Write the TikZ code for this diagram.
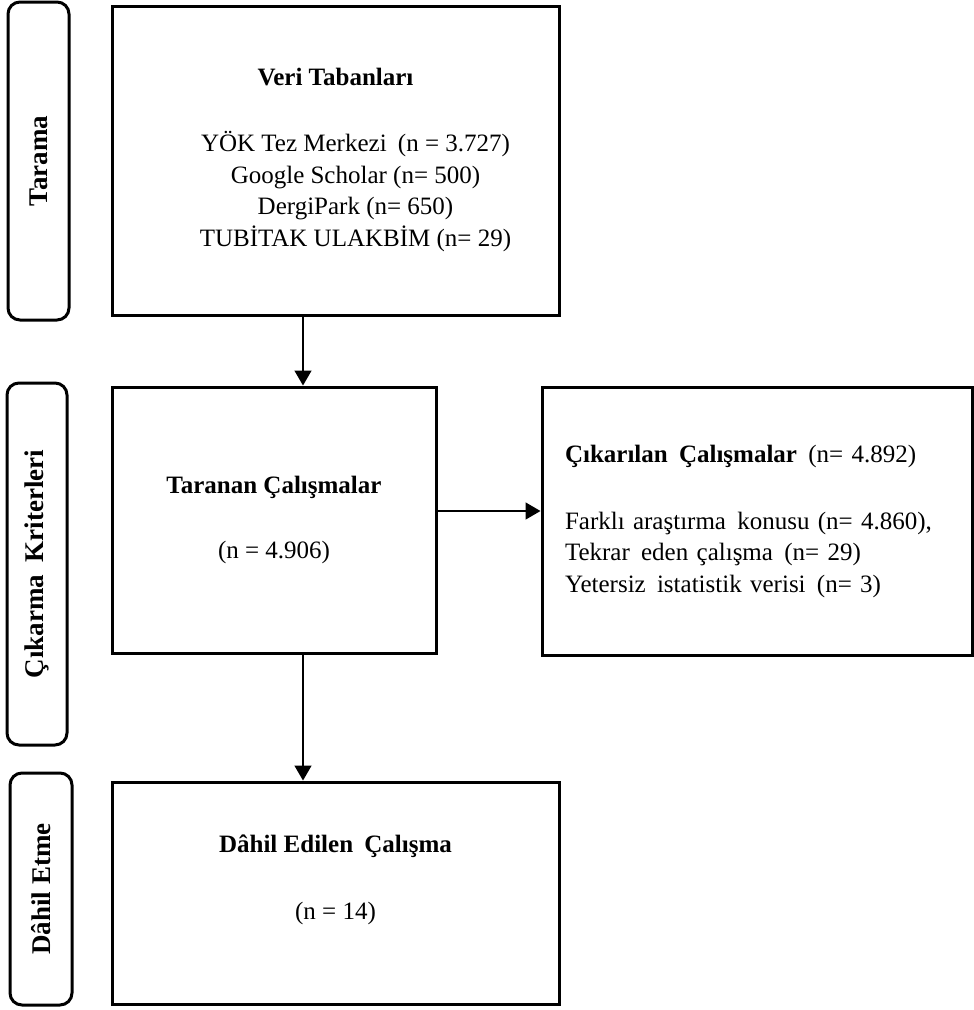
\documentclass[tikz,border=0pt]{standalone}
\usepackage{fontspec}
\setmainfont{Liberation Serif}
\usetikzlibrary{arrows.meta,positioning}
\newcommand{\ara}{\hspace{0.45em}}

\begin{document}
\begin{tikzpicture}[x=1pt,y=1pt,
      kutu/.style={draw,line width=3pt,align=center,inner sep=0pt,font=\fontsize{25}{31.5}\selectfont},
      evre/.style={draw,line width=3pt,rounded corners=12pt,rotate=90,inner sep=0pt,font=\fontsize{27}{32}\selectfont\bfseries},
      ok/.style={-{Triangle[length=15pt,width=17pt]},line width=1.5pt}
    ]
      \useasboundingbox (0,0) rectangle (974,-1010);
      % asamalar
      \node[evre,minimum width=318pt,minimum height=61pt] (tarama) at (38.5,-161) {Tarama};
      \node[evre,minimum width=362pt,minimum height=60pt] (cikarma) at (37,-564) {Çıkarma\ara Kriterleri};
      \node[evre,minimum width=232pt,minimum height=62pt] (dahil) at (41,-889) {Dâhil Etme};
      % kutular
      \node[kutu,minimum width=447pt,minimum height=309pt] (vt) at (335.5,-160.5)
        {\textbf{Veri Tabanları}\\[35pt]
         \hspace*{40pt}YÖK Tez Merkezi\ara(n = 3.727)\\
         \hspace*{40pt}Google Scholar (n= 500)\\
         \hspace*{40pt}DergiPark (n= 650)\\
         \hspace*{40pt}TUBİTAK ULAKBİM (n= 29)\\[-25pt]\mbox{}};
      \node[kutu,minimum width=324pt,minimum height=266pt] (tc) at (274,-520)
        {\textbf{Taranan Çalışmalar}\\[33.5pt](n = 4.906)};
      \node[kutu,align=left,text width=384pt,minimum width=430pt,minimum height=268pt] (cc) at (757,-521)
        {\textbf{Çıkarılan\ara Çalışmalar}\ara(n= 4.892)\\[35.5pt]
         Farklı araştırma\ara konusu (n= 4.860),\\
         Tekrar\ara eden çalışma\ara(n= 29)\\
         Yetersiz\ara istatistik verisi\ara(n= 3)};
      \node[kutu,minimum width=447pt,minimum height=222pt] (dc) at (335.5,-893)
        {\textbf{Dâhil Edilen\ara Çalışma}\\[35.5pt](n = 14)\\\mbox{}};
      % oklar
      \coordinate (eksen) at (303,0);
      \coordinate (yatay) at (0,-511);
      \draw[ok] (vt.south -| eksen) -- (tc.north -| eksen);
      \draw[ok] (tc.south -| eksen) -- (dc.north -| eksen);
      \draw[ok] (tc.east |- yatay) -- (cc.west |- yatay);
    \end{tikzpicture}
\end{document}
